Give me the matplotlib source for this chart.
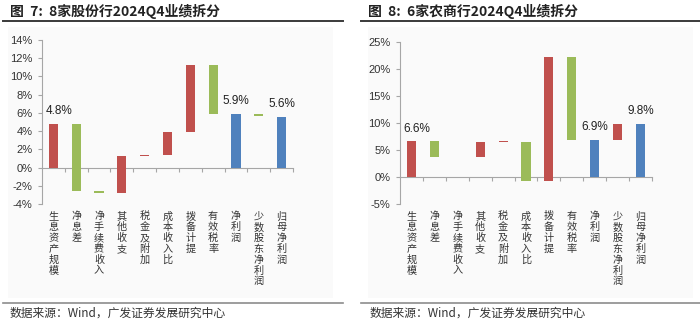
import matplotlib.pyplot as plt
from matplotlib.patches import Rectangle
from matplotlib.lines import Line2D
from matplotlib.transforms import blended_transform_factory

plt.rcParams['font.family'] = ['Liberation Sans', 'Noto Sans CJK SC', 'DejaVu Sans']

# --- Datos ---
categorias = ["生息资产规模", "净息差", "净手续费收入", "其他收支", "税金及附加",
              "成本收入比", "拨备计提", "有效税率", "净利润", "少数股东净利润", "归母净利润"]

# 8家股份行: base y techo de cada barra (%)
gf_bottom = [0.0, -2.6, -2.8, -2.8, 1.30, 1.35, 3.9, 5.9, 0.0, 5.7, 0.0]
gf_top = [4.8, 4.8, -2.6, 1.3, 1.38, 3.9, 11.3, 11.3, 5.9, 5.9, 5.6]
gf_color = ["red", "green", "green", "red", "red", "red", "red", "green", "blue", "green", "blue"]
gf_labels = {0: "4.8%", 8: "5.9%", 10: "5.6%"}

# 6家农商行
ns_bottom = [0.0, 3.8, 3.7, 3.7, 6.45, -0.8, -0.8, 6.9, 0.0, 6.9, 0.0]
ns_top = [6.6, 6.6, 3.8, 6.5, 6.6, 6.5, 22.3, 22.3, 6.9, 9.8, 9.8]
ns_color = ["red", "green", "green", "red", "red", "green", "red", "green", "blue", "red", "blue"]
ns_labels = {0: "6.6%", 8: "6.9%", 10: "9.8%"}

palette = {"red": "#C0504D", "green": "#9BBB59", "blue": "#4F81BD"}
axis_grey = "#A6A6A6"

fig = plt.figure(figsize=(7.0, 3.25), dpi=100)

# fondos grises claros de cada panel
for x0, x1 in [(8, 333), (368, 693)]:
    fig.patches.append(Rectangle((x0 / 700, 1 - 298 / 325), (x1 - x0) / 700, 271 / 325,
                                 transform=fig.transFigure, facecolor="#FAFAFA",
                                 edgecolor="none", zorder=-5))

# líneas de título y de pie
for x0, x1 in [(3, 343), (361, 700)]:
    fig.lines.append(Line2D([x0 / 700, x1 / 700], [1 - 20.5 / 325] * 2, transform=fig.transFigure,
                            color="#3A3A3A", lw=1.4))
    fig.lines.append(Line2D([x0 / 700, x1 / 700], [1 - 302.5 / 325] * 2, transform=fig.transFigure,
                            color="#8C8C8C", lw=1.2))

fig.text(10 / 700, 1 - 11.5 / 325, "图  7:  8家股份行2024Q4业绩拆分", fontsize=10, fontweight="bold",
         va="center", ha="left", family=["Noto Sans CJK SC"], color="#222222")
fig.text(368 / 700, 1 - 11.5 / 325, "图  8:  6家农商行2024Q4业绩拆分", fontsize=10, fontweight="bold",
         va="center", ha="left", family=["Noto Sans CJK SC"], color="#222222")
fig.text(10 / 700, 1 - 313 / 325, "数据来源：Wind，广发证券发展研究中心", fontsize=8.5,
         va="center", ha="left", family=["Noto Sans CJK SC"], color="#333333")
fig.text(370 / 700, 1 - 313 / 325, "数据来源：Wind，广发证券发展研究中心", fontsize=8.5,
         va="center", ha="left", family=["Noto Sans CJK SC"], color="#333333")


def dibujar(ax, bottom, top, colores, etiquetas, ylim, yticks, label_dx):
    x = range(len(categorias))
    alturas = [t - b for b, t in zip(bottom, top)]
    ax.bar(x, alturas, bottom=bottom, width=0.4,
           color=[palette[c] for c in colores], zorder=3)
    ax.set_xlim(-0.5, len(categorias) - 0.5)
    ax.set_ylim(*ylim)
    ax.set_yticks(yticks)
    ax.set_yticklabels([f"{v}%" for v in yticks], fontsize=8, color="#333333")
    ax.patch.set_visible(False)
    for s in ["top", "right"]:
        ax.spines[s].set_visible(False)
    ax.spines["left"].set_color(axis_grey)
    ax.spines["bottom"].set_color(axis_grey)
    ax.spines["bottom"].set_position(("data", 0))
    ax.tick_params(axis="y", length=3, color=axis_grey, pad=4)
    ax.set_xticks([i + 0.5 for i in x])
    ax.set_xticklabels([])
    ax.tick_params(axis="x", length=3, color=axis_grey, direction="out")
    for i, txt in etiquetas.items():
        ax.annotate(txt, (i, top[i]), xytext=(label_dx if i == 0 else 0, 5),
                    textcoords="offset points", ha="center", va="bottom",
                    fontsize=8.5, color="#222222")
    trans = blended_transform_factory(ax.transData, ax.transAxes)
    for i, nombre in enumerate(categorias):
        ax.text(i, -0.045, "\n".join(nombre), transform=trans, ha="center", va="top",
                fontsize=7.3, linespacing=1.1, family=["Noto Sans CJK SC"], color="#333333")


ax1 = fig.add_axes([42 / 700, 1 - 204 / 325, 251 / 700, 164 / 325])
dibujar(ax1, gf_bottom, gf_top, gf_color, gf_labels, (-4, 14), list(range(-4, 15, 2)), 4)

ax2 = fig.add_axes([400 / 700, 1 - 204 / 325, 252 / 700, 161.7 / 325])
dibujar(ax2, ns_bottom, ns_top, ns_color, ns_labels, (-5, 25), list(range(-5, 26, 5)), 4)

fig.savefig("out.png", dpi=100)
